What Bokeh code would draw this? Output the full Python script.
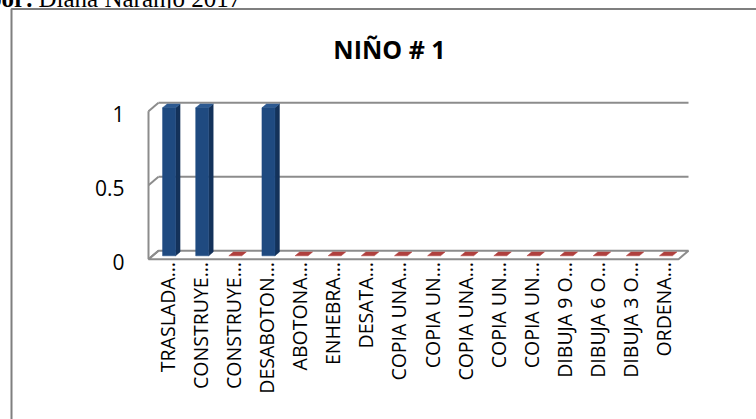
import math
from bokeh.plotting import figure
from bokeh.models import Range1d
from bokeh.core.properties import value
from bokeh.embed import file_html
from bokeh.resources import INLINE

# ---------------- data ----------------
categories = ["TRASLADA…", "CONSTRUYE…", "CONSTRUYE…", "DESABOTON…", "ABOTONA…",
              "ENHEBRA…", "DESATA…", "COPIA UNA…", "COPIA UN…", "COPIA UNA…",
              "COPIA UN…", "COPIA UN…", "DIBUJA 9 O…", "DIBUJA 6 O…",
              "DIBUJA 3 O…", "ORDENA…"]
values = [1, 1, 0, 1, 0, 0, 0, 0, 0, 0, 0, 0, 0, 0, 0, 0]
y_ticks = [0, 0.5, 1]
y_tick_labels = ["0", "0.5", "1"]
title_text = "NIÑO # 1"
caption_bold = "por:"
caption_rest = "Diana Naranjo 2017"

# ---------------- layout (page pixels) ----------------
W, H = 764, 427
OFF = 8.0                                # canvas starts 8px above/left of the page
X0P = 148.0                              # front-left corner of the floor
UX = 530.0 / len(categories)             # px per category
Y0P = 258.7                              # value 0 (front edge)
UY = 148.0                               # px per value unit
DXP, DYP = 10.0, 8.5                     # depth offset of back wall
F0, F1 = 0.4, 0.85                       # bar depth (front / back fraction)
BAR_W = 13.0 / UX

DX, DY = DXP / UX, DYP / UY
n = len(categories)


def px2x(px):
    return -0.5 + (px - X0P) / UX


def py2y(py):
    return (Y0P - py) / UY


p = figure(width=W, height=H,
           x_range=Range1d(px2x(-OFF), px2x(W - OFF)),
           y_range=Range1d(py2y(H - OFF), py2y(-OFF)),
           x_axis_type=None, y_axis_type=None,
           output_backend="svg", toolbar_location=None,
           min_border=0, min_border_left=0, min_border_right=0,
           min_border_top=0, min_border_bottom=0,
           margin=(-8, -8, -8, -8))
p.outline_line_color = None
p.grid.visible = False
p.background_fill_color = "white"
p.border_fill_color = "white"

GRID = "#8c8c8c"
FONT = "Open Sans"

# caption above the chart (its lower part is hidden by the chart box)
p.text(x=[px2x(33)], y=[py2y(-2)], text=[caption_bold], text_align="right",
       text_baseline="alphabetic", text_font=value("Liberation Serif"),
       text_font_style="bold", text_font_size="25px", text_color="black")
p.text(x=[px2x(38)], y=[py2y(-2)], text=[caption_rest], text_align="left",
       text_baseline="alphabetic", text_font=value("Liberation Serif"),
       text_font_size="25px", text_color="black")

# chart box (extends past the window)
p.quad(left=[px2x(11)], right=[px2x(W + 50)], top=[py2y(8.5)], bottom=[py2y(H + 50)],
       fill_color="white", line_color="#7f7f7f", line_width=2)

# floor
fx = [-0.5, n - 0.5, n - 0.5 + DX, -0.5 + DX]
fy = [0, 0, DY, DY]
p.patch(fx, fy, fill_color="white", line_color=GRID, line_width=2)

# back wall gridlines
gx, gy = [], []
for t in y_ticks:
    if t == 0:
        continue
    gx.append([-0.5 + DX, n - 0.5 + DX])
    gy.append([t + DY, t + DY])
p.multi_line(gx, gy, line_color=GRID, line_width=2)

# left wall
lx, ly = [[-0.5, -0.5]], [[0, max(y_ticks)]]
for t in y_ticks:
    lx.append([-0.5, -0.5 + DX])
    ly.append([t, t + DY])
p.multi_line(lx, ly, line_color=GRID, line_width=2)

# bars
sx, sy = (F1 - F0) * DX, (F1 - F0) * DY
front_l, front_r, front_b, front_t = [], [], [], []
side_xs, side_ys, top_xs, top_ys = [], [], [], []
zero_xs, zero_ys = [], []
for i, v in enumerate(values):
    xc = i + F0 * DX
    xl, xr = xc - BAR_W / 2, xc + BAR_W / 2
    yb = F0 * DY
    yt = v + F0 * DY
    if v > 0:
        front_l.append(xl); front_r.append(xr); front_b.append(yb); front_t.append(yt)
        side_xs.append([xr, xr + sx, xr + sx, xr])
        side_ys.append([yb, yb + sy, yt + sy, yt])
        top_xs.append([xl, xr, xr + sx, xl + sx])
        top_ys.append([yt, yt, yt + sy, yt + sy])
    else:
        zero_xs.append([xl, xr, xr + sx, xl + sx])
        zero_ys.append([yb, yb, yb + sy, yb + sy])

p.patches(zero_xs, zero_ys, fill_color="#b0403e", line_color="#b0403e", line_width=0.5)
p.patches(side_xs, side_ys, fill_color="#14325a", line_color="#14325a", line_width=0.5)
p.patches(top_xs, top_ys, fill_color="#2d5a92", line_color="#2d5a92", line_width=0.5)
p.quad(left=front_l, right=front_r, bottom=front_b, top=front_t,
       fill_color="#1f4a80", line_color="#1f4a80", line_width=0.5)

# y tick labels (value axis)
p.text(x=[-0.5] * len(y_ticks), y=y_ticks, text=y_tick_labels,
       x_offset=-24, y_offset=3, text_align="right", text_baseline="middle",
       text_font=value(FONT), text_font_size="21px", text_color="black")

# category labels (rotated)
p.text(x=list(range(n)), y=[0] * n, text=categories, angle=math.pi / 2,
       x_offset=2, y_offset=3, text_align="right", text_baseline="middle",
       text_font=value(FONT), text_font_size="19.5px", text_color="black")

# title
p.text(x=[px2x(389)], y=[py2y(48)], text=[title_text], text_align="center",
       text_baseline="middle", text_font=value(FONT), text_font_style="bold",
       text_font_size="25px", text_color="black")

open("out.html", "w").write(file_html(p, INLINE))
